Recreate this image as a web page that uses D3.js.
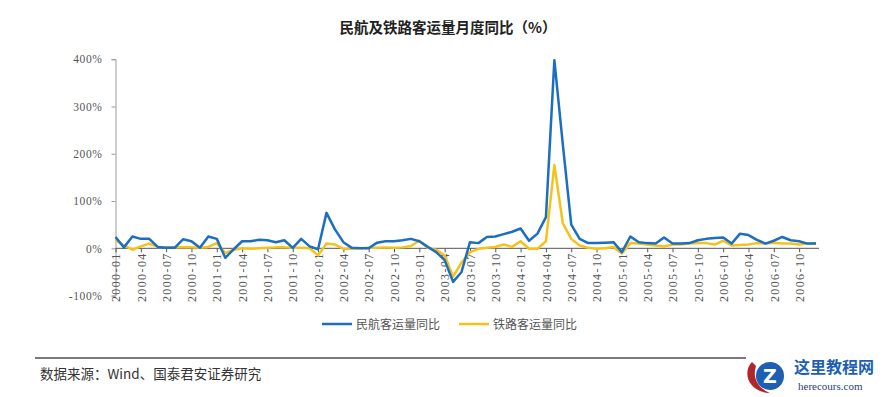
<!DOCTYPE html>
<html><head><meta charset="utf-8">
<script src="https://cdn.jsdelivr.net/npm/d3@7"></script>
<style>
html,body{margin:0;padding:0;background:#fff;}
svg{display:block;}
</style></head>
<body><svg id="c" width="890" height="397"></svg>
<script>
const title = "民航及铁路客运量月度同比（%）";
const seriesNames = ["民航客运量同比", "铁路客运量同比"];
const months = [];
for (let y = 2000; y <= 2006; y++) for (let m = 1; m <= 12; m++) months.push(y + "-" + String(m).padStart(2, "0"));
const yTicks = [-100, 0, 100, 200, 300, 400];
const airValues = [24,2,25,20,20,3,1,1,19,15,1,25,20,-20,-2,15,15,18,17,13,17,1,20,4,-2,75,40,13,1,0,0,12,15,15,17,20,15,3,-8,-25,-71,-50,13,11,24,25,30,35,42,16,31,66,398,220,50,20,11,11,12,13,-8,25,13,11,10,23,10,10,11,17,20,22,23,10,31,28,18,10,16,24,17,15,10,10];
const railValues = [17,6,-3,4,10,3,2,2,2,2,1,3,11,-10,-3,0,-1,0,1,2,2,1,1,0,-15,10,8,-1,-1,0,1,1,2,1,2,5,16,1,-3,-15,-60,-30,-8,-1,1,3,8,3,15,-1,-1,15,176,53,20,6,1,-1,0,3,-11,11,10,8,6,4,8,8,10,11,11,8,16,6,7,8,11,10,12,10,10,8,10,10];
const sourceText = "数据来源：Wind、国泰君安证券研究";

const svg = d3.select("#c");
const x = d3.scalePoint().domain(months).range([115.5, 816]);
const y = d3.scaleLinear().domain([-100, 400]).range([295.6, 59.2]);
const labelFont = "'Liberation Serif','DejaVu Serif',serif";
const cjk = "'Noto Sans CJK SC','Noto Sans',sans-serif";

svg.append("text").attr("x", 448).attr("y", 33).attr("text-anchor", "middle")
  .attr("font-family", cjk).attr("font-weight", "bold").attr("font-size", 14.5).attr("fill", "#222")
  .text(title);

// y axis
const ya = svg.append("g").attr("transform", "translate(115.5,0)")
  .call(d3.axisLeft(y).tickValues(yTicks).tickSize(4).tickFormat(d => d + "%"));
ya.select(".domain").attr("stroke", "#9a9a9a");
ya.selectAll(".tick line").attr("stroke", "#9a9a9a");
ya.selectAll("text").attr("font-family", labelFont).attr("font-size", 11.5).attr("fill", "#555")
  .attr("letter-spacing", 0.6).attr("x", -13);

// x axis at zero
const xa = svg.append("g").attr("transform", `translate(0,${y(0)})`)
  .call(d3.axisBottom(x).tickValues(months.filter((d, i) => i % 3 === 0)).tickSize(4).tickSizeOuter(0));
xa.select(".domain").attr("stroke", "#555").attr("d", `M${x(months[0])},0H819`);
xa.selectAll(".tick line").attr("stroke", "#555");
xa.selectAll("text").attr("font-family", labelFont).attr("font-size", 12).attr("fill", "#555")
  .attr("letter-spacing", 1.4)
  .attr("transform", "rotate(-90)").attr("text-anchor", "end")
  .attr("x", -4).attr("y", 0).attr("dy", "0.35em");

const line = d3.line().x((d, i) => x(months[i])).y(d => y(d));
svg.append("path").datum(railValues).attr("d", line).attr("fill", "none")
  .attr("stroke", "#f6c21a").attr("stroke-width", 2.5).attr("stroke-linejoin", "round");
svg.append("path").datum(airValues).attr("d", line).attr("fill", "none")
  .attr("stroke", "#1b6ec2").attr("stroke-width", 2.5).attr("stroke-linejoin", "round");

// legend
const colors = ["#1b6ec2", "#f6c21a"];
const lx = [322, 459];
seriesNames.forEach((n, i) => {
  svg.append("line").attr("x1", lx[i]).attr("x2", lx[i] + 30).attr("y1", 324).attr("y2", 324)
    .attr("stroke", colors[i]).attr("stroke-width", 2.5);
  svg.append("text").attr("x", lx[i] + 34).attr("y", 328.5).attr("font-family", cjk)
    .attr("font-size", 12).attr("fill", "#555").text(n);
});

// footer
svg.append("line").attr("x1", 35).attr("x2", 746).attr("y1", 358).attr("y2", 358)
  .attr("stroke", "#7a7a7a").attr("stroke-width", 2);
svg.append("text").attr("x", 40).attr("y", 379).attr("font-family", cjk)
  .attr("font-size", 13.5).attr("fill", "#333").text(sourceText);

// watermark
const wm = svg.append("g");
wm.append("path").attr("d", "M752,362 C742,372 748,392 770,393 C758,388 752,378 756,366 Z").attr("fill", "#b0262a");
wm.append("circle").attr("cx", 770).attr("cy", 376).attr("r", 14).attr("fill", "#1d5fb3");
wm.append("text").attr("x", 770).attr("y", 383).attr("text-anchor", "middle").attr("font-family", "'DejaVu Sans',sans-serif")
  .attr("font-weight", "bold").attr("font-size", 19).attr("fill", "#fff").text("Z");
wm.append("text").attr("x", 794).attr("y", 373).attr("font-family", cjk).attr("font-weight", "bold")
  .attr("font-size", 16).attr("fill", "#1d5fb3").text("这里教程网");
wm.append("text").attr("x", 798).attr("y", 390).attr("font-family", labelFont)
  .attr("font-size", 11).attr("fill", "#1d3f7a").text("herecours.com");
</script></body></html>
